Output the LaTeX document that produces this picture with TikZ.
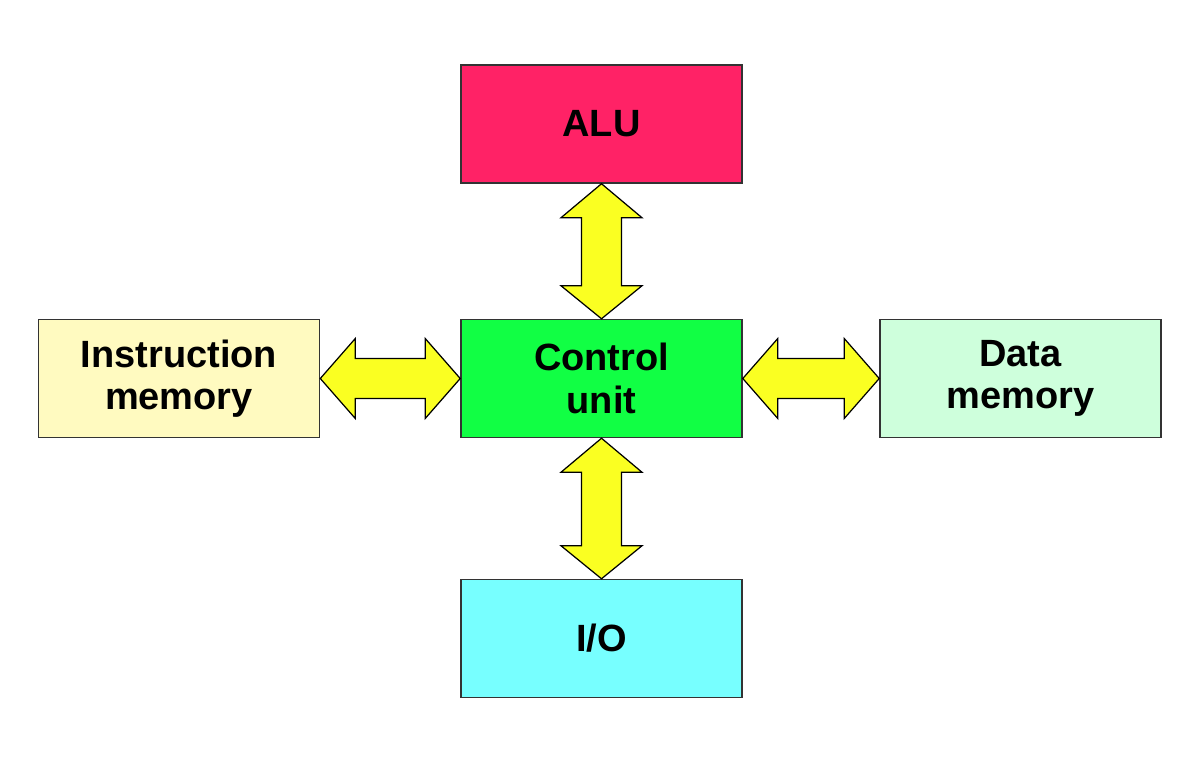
\documentclass[tikz,border=0pt]{standalone}
\usepackage{fontspec}
\setmainfont{Liberation Sans}
\usepackage{xcolor}
\usetikzlibrary{calc}

\definecolor{alured}{RGB}{255,34,102}
\definecolor{cugreen}{RGB}{17,255,68}
\definecolor{iocyan}{RGB}{119,255,255}
\definecolor{imyellow}{RGB}{255,250,192}
\definecolor{dmgreen}{RGB}{206,255,220}
\definecolor{busyellow}{RGB}{250,255,34}

\tikzset{
    unitbox/.style={draw=black!80, line width=0.4pt, minimum width=2.81cm,
        minimum height=1.18cm, inner sep=0pt, align=center,
        font=\fontsize{10.8}{12}\selectfont\bfseries},
    bus/.style={draw=black, line width=0.35pt, fill=busyellow, line join=miter}
}

\begin{document}
\begin{tikzpicture}[x=0.01cm, y=0.01cm]
    \useasboundingbox (0, 0) rectangle (1200, 763);

    % units
    \node[unitbox, fill=alured] (alu) at (601.5, 639) {ALU};
    \node[unitbox, fill=cugreen] (cu) at (601.5, 384.5) {Control\\unit};
    \node[unitbox, fill=iocyan] (io) at (601.5, 124.5) {I/O};
    \node[unitbox, fill=imyellow] (im) at (179, 384.5) {Instruction\\memory};
    \node[unitbox, fill=dmgreen] (dm) at (1020.5, 384.5) {Data\\memory};

    % ALU <-> control unit
    \draw[bus] (alu.south) -- ++(40.5, -34) -- ++(-20.5, 0)
        -- ($(cu.north) + (20, 33)$) -- ++(20.5, 0) -- (cu.north)
        -- ++(-40.5, 33) -- ++(20.5, 0)
        -- ($(alu.south) + (-20, -34)$) -- ++(-20.5, 0) -- cycle;

    % control unit <-> I/O
    \draw[bus] (cu.south) -- ++(40.5, -34) -- ++(-20.5, 0)
        -- ($(io.north) + (20, 33)$) -- ++(20.5, 0) -- (io.north)
        -- ++(-40.5, 33) -- ++(20.5, 0)
        -- ($(cu.south) + (-20, -34)$) -- ++(-20.5, 0) -- cycle;

    % instruction memory <-> control unit
    \draw[bus] (im.east) -- ++(35, 40) -- ++(0, -20)
        -- ($(cu.west) + (-35, 20)$) -- ++(0, 20) -- (cu.west)
        -- ++(-35, -40) -- ++(0, 20)
        -- ($(im.east) + (35, -20)$) -- ++(0, -20) -- cycle;

    % control unit <-> data memory
    \draw[bus] (cu.east) -- ++(35, 40) -- ++(0, -20)
        -- ($(dm.west) + (-35, 20)$) -- ++(0, 20) -- (dm.west)
        -- ++(-35, -40) -- ++(0, 20)
        -- ($(cu.east) + (35, -20)$) -- ++(0, -20) -- cycle;
\end{tikzpicture}
\end{document}
